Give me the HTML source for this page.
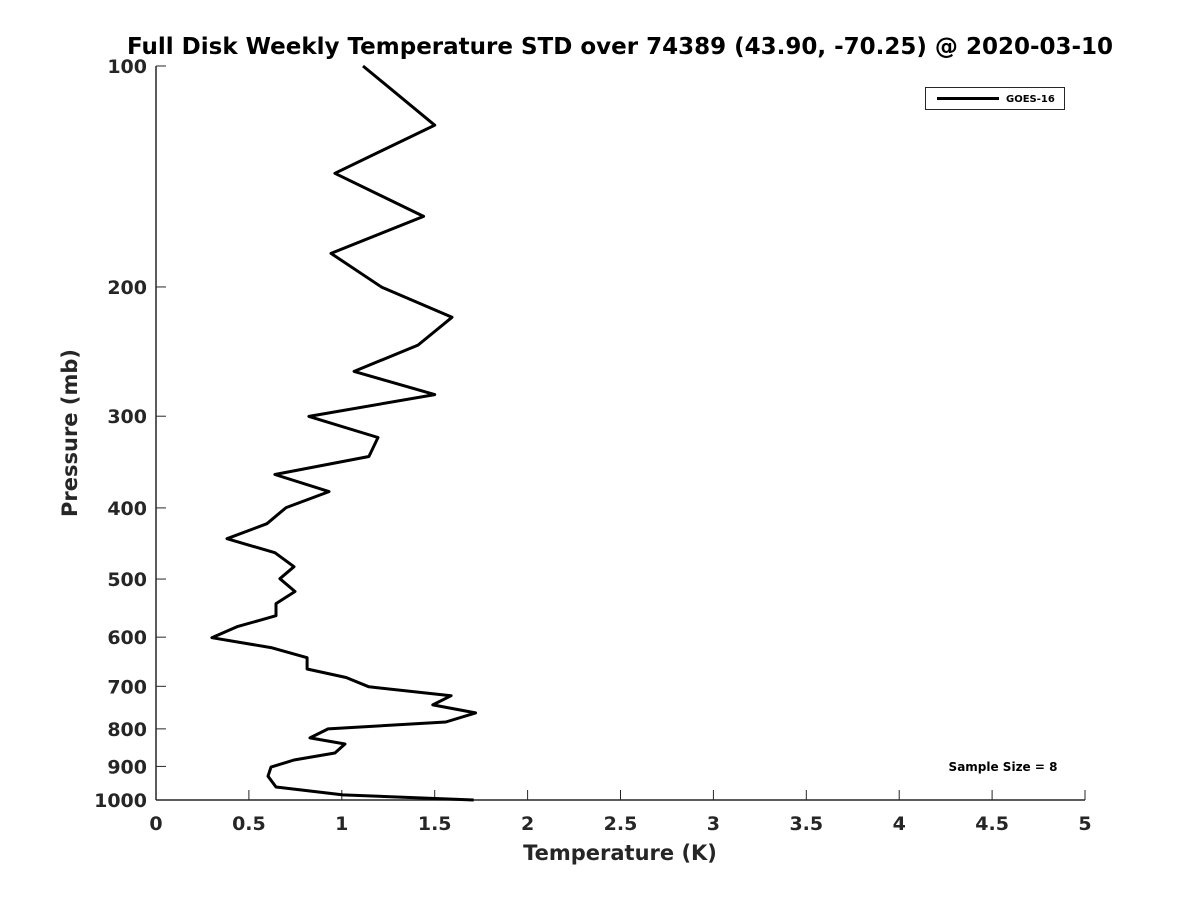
<!DOCTYPE html>
<html><head><meta charset="utf-8"><style>
body{margin:0;background:#fff;}
svg{display:block;font-family:"DejaVu Sans","Liberation Sans",sans-serif;font-weight:bold;}
</style></head><body>
<svg id="chart" width="1200" height="900">
<text x="620" y="54" text-anchor="middle" font-size="23" fill="#000">Full Disk Weekly Temperature STD over 74389 (43.90, -70.25) @ 2020-03-10</text>
<g id="axes"></g>
<path id="line" fill="none" stroke="#000" stroke-width="3" stroke-linejoin="round"></path>
<text x="620" y="860" text-anchor="middle" font-size="21" fill="#262626">Temperature (K)</text>
<text transform="translate(77,433) rotate(-90)" text-anchor="middle" font-size="21" fill="#262626">Pressure (mb)</text>
<g>
<rect x="925.5" y="87.5" width="139" height="22" fill="#fff" stroke="#262626" stroke-width="1"/>
<line x1="937" y1="98.5" x2="999" y2="98.5" stroke="#000" stroke-width="3"/>
<text x="1006" y="102" font-size="10" fill="#000">GOES-16</text>
</g>
<text x="1003" y="771" text-anchor="middle" font-size="12" fill="#000">Sample Size = 8</text>
</svg>
<script>
const temps=[1.114,1.50,0.963,1.44,0.942,1.216,1.593,1.41,1.066,1.50,0.823,1.195,1.146,0.640,0.931,0.70,0.597,0.382,0.64,0.743,0.667,0.748,0.646,0.646,0.436,0.301,0.619,0.813,0.813,1.023,1.146,1.588,1.49,1.72,1.56,0.926,0.829,1.017,0.963,0.743,0.619,0.603,0.646,1.006,1.71];
const pressures=[100,120.4,140,160.3,180,200.2,220,240,260.7,280.3,300.2,320.7,340.4,360.2,380,399.6,420.3,440.5,460.3,481,499.4,520,540,561,580.7,601,620,640,663,681,701,721,742,761,783,800,823,839,863,882,902,928,960,984,1000];
const xTicks=[0,0.5,1,1.5,2,2.5,3,3.5,4,4.5,5];
const xTickLabels=["0","0.5","1","1.5","2","2.5","3","3.5","4","4.5","5"];
const yTicks=[100,200,300,400,500,600,700,800,900,1000];
const yTickLabels=["100","200","300","400","500","600","700","800","900","1000"];
const X0=156,X1=1085,Y0=66,Y1=800;
function xs(v){return X0+(v-0)/(5-0)*(X1-X0);}
function ys(p){return Y0+Math.log10(p/100)/Math.log10(1000/100)*(Y1-Y0);}
const NS="http://www.w3.org/2000/svg";
const axes=document.getElementById('axes');
function mk(tag,attrs){const e=document.createElementNS(NS,tag);for(const k in attrs)e.setAttribute(k,attrs[k]);return e;}
let a=mk('line',{x1:X0,y1:Y1,x2:X1,y2:Y1,stroke:'#262626','stroke-width':1.5});


axes.appendChild(a);
a=mk('line',{x1:X0,y1:Y0,x2:X0,y2:Y1,stroke:'#262626','stroke-width':1.5});


axes.appendChild(a);
xTicks.forEach((v,i)=>{
 const t=mk('line',{x1:xs(v),y1:Y1,x2:xs(v),y2:Y1-10,stroke:'#262626','stroke-width':1});
 
 
 axes.appendChild(t);
 const l=mk('text',{x:xs(v),y:Y1+30,'text-anchor':'middle','font-size':19,fill:'#262626'});
 l.textContent=xTickLabels[i];
 
 
 axes.appendChild(l);
});
yTicks.forEach((v,i)=>{
 const t=mk('line',{x1:X0,y1:ys(v),x2:X0+10,y2:ys(v),stroke:'#262626','stroke-width':1});
 
 
 axes.appendChild(t);
 const l=mk('text',{x:X0-9,y:ys(v)+7,'text-anchor':'end','font-size':19,fill:'#262626'});
 l.textContent=yTickLabels[i];
 
 
 axes.appendChild(l);
});
document.getElementById('line').setAttribute('d',temps.map((t,i)=>(i?'L':'M')+xs(t).toFixed(1)+','+ys(pressures[i]).toFixed(1)).join(' '));
</script>
</body></html>
